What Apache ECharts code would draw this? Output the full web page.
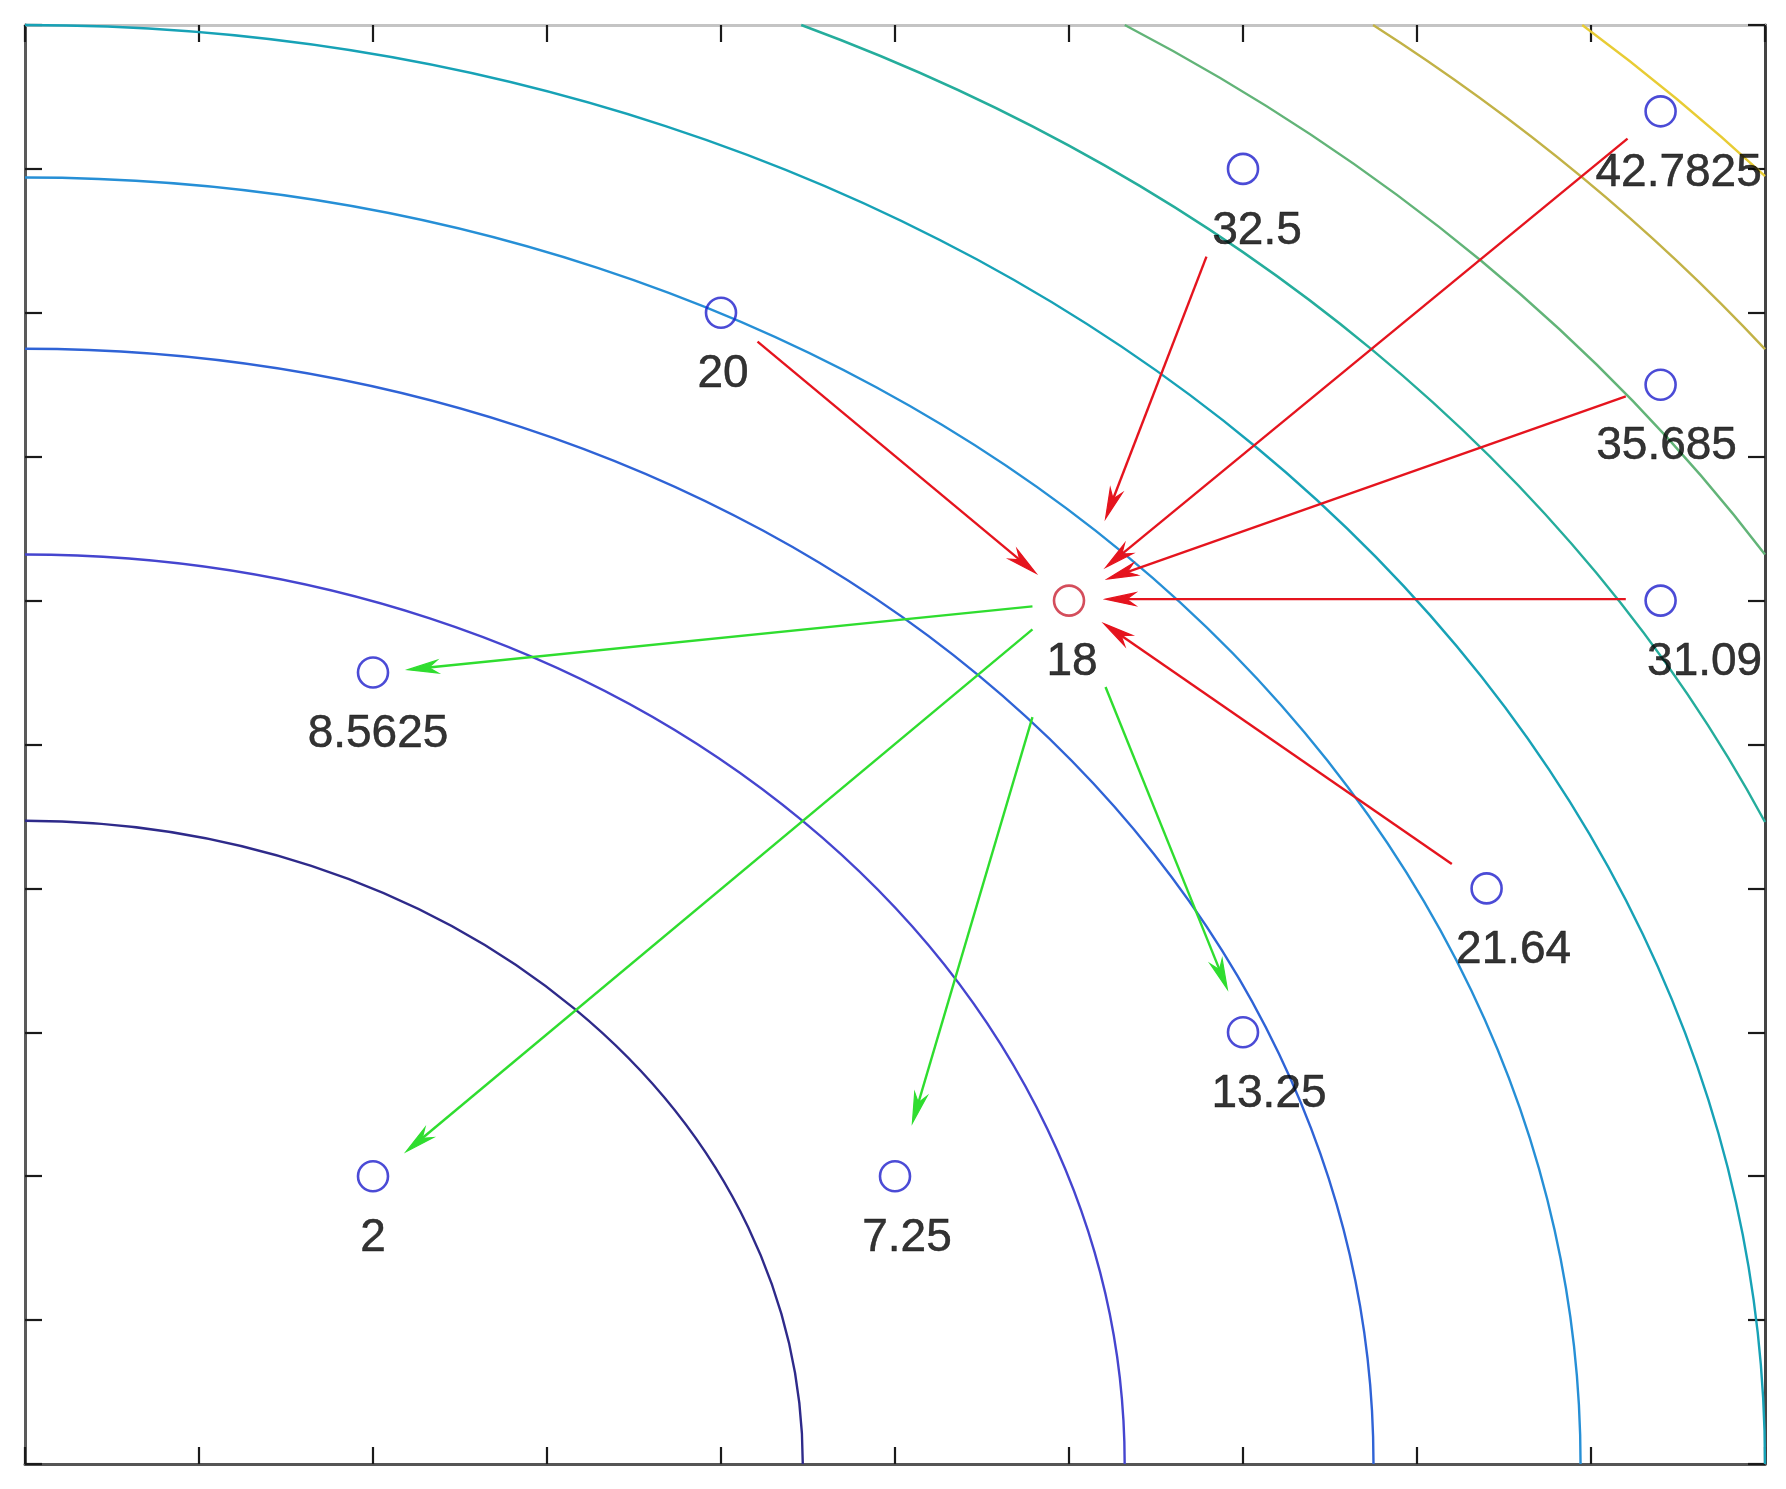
<!DOCTYPE html>
<html>
<head>
<meta charset="utf-8">
<script src="https://cdn.jsdelivr.net/npm/echarts@6/dist/echarts.min.js"></script>
<style>
html,body{margin:0;padding:0;background:#ffffff;}
#main{width:1786px;height:1489px;}
</style>
</head>
<body>
<div id="main"></div>
<script>
// ---- data ----
const contourLevels = [5, 10, 15, 20, 25, 30, 35, 40, 45];
const contourRadius = [4.47, 6.32, 7.75, 8.94, 10.0, 10.95, 11.83, 12.65, 13.42];

const pointLabels = ['2', '7.25', '13.25', '8.5625', '20', '32.5', '42.7825', '35.685', '31.09', '21.64'];
const pointX = [2, 5, 7, 2, 4, 7, 9.4, 9.4, 9.4, 8.4];
const pointY = [2, 2, 3, 5.5, 8, 9, 9.4, 7.5, 6, 4];

const centerLabel = ['18'];
const centerX = [6];
const centerY = [6];

// arrows into the centre point (start, end)
const redFromX = [4.21, 6.79, 9.21, 9.20, 9.20, 8.20];
const redFromY = [7.80, 8.39, 9.21, 7.42, 6.01, 4.17];
const redToX   = [5.81, 6.21, 6.21, 6.22, 6.21, 6.20];
const redToY   = [6.19, 6.57, 6.23, 6.15, 6.01, 5.84];
// arrows out of the centre point
const greenFromX = [5.79, 5.79, 5.79, 6.21];
const greenFromY = [5.96, 5.80, 5.19, 5.40];
const greenToX   = [2.20, 2.19, 5.10, 6.91];
const greenToY   = [5.52, 2.17, 2.37, 3.30];

const axisMin = 0, axisMax = 10, axisStep = 1;

// ---- styles / layout ----
const contourColors = ['#2e2a8a', '#4545cf', '#2f63d6', '#268fd6', '#17a2b6', '#25ad9c', '#62b478', '#c2b246', '#e8cc34'];
const labelDx = [0, 12, 26, 5, 2, 14, 18, 6, 44, 27];
const centerLabelDx = [3];
const labelDy = 62;
const FONT = "'Liberation Sans', Arial, Helvetica, sans-serif";

const chart = echarts.init(document.getElementById('main'), null, {renderer: 'canvas'});

function contourItem(params, api) {
  const r = api.value(2);
  const c = api.coord([0, 0]);
  let a, b;
  if (r <= axisMax) { a = [r, 0]; b = [0, r]; }
  else { const t = Math.sqrt(r * r - axisMax * axisMax); a = [axisMax, t]; b = [t, axisMax]; }
  const pa = api.coord(a), pb = api.coord(b);
  const rx = api.coord([r, 0])[0] - c[0];
  const ry = c[1] - api.coord([0, r])[1];
  return {
    type: 'path',
    shape: {pathData: 'M' + pa[0] + ' ' + pa[1] + ' A' + rx + ' ' + ry + ' 0 0 0 ' + pb[0] + ' ' + pb[1]},
    style: {stroke: contourColors[params.dataIndex], lineWidth: 2.4, fill: 'none'}
  };
}

function arrowItem(color) {
  return function (params, api) {
    const s = api.coord([api.value(0), api.value(1)]);
    const e = api.coord([api.value(2), api.value(3)]);
    const dx = e[0] - s[0], dy = e[1] - s[1];
    const len = Math.sqrt(dx * dx + dy * dy);
    const ux = dx / len, uy = dy / len;
    const L = 30, W = 6.5, N = 21;
    const bx = e[0] - ux * L, by = e[1] - uy * L;
    const p1 = [bx - uy * W, by + ux * W];
    const p2 = [bx + uy * W, by - ux * W];
    const nt = [e[0] - ux * N, e[1] - uy * N];
    return {
      type: 'group',
      children: [
        {type: 'line', shape: {x1: s[0], y1: s[1], x2: nt[0], y2: nt[1]}, style: {stroke: color, lineWidth: 2.4}},
        {type: 'polygon', shape: {points: [e, p1, nt, p2]}, style: {fill: color, stroke: color, lineWidth: 1.2}}
      ]
    };
  };
}

const contourData = contourLevels.map((lv, i) => [0, 0, contourRadius[i], lv]);
const redData = redFromX.map((v, i) => [v, redFromY[i], redToX[i], redToY[i]]);
const greenData = greenFromX.map((v, i) => [v, greenFromY[i], greenToX[i], greenToY[i]]);

const pointData = pointX.map((x, i) => ({
  value: [x, pointY[i]],
  label: {offset: [labelDx[i], labelDy]}
}));
const centerData = centerX.map((x, i) => ({
  value: [x, centerY[i]],
  label: {offset: [centerLabelDx[i], labelDy]}
}));

const labelStyle = {
  show: true, position: 'inside', align: 'center', verticalAlign: 'middle',
  fontSize: 46, fontFamily: FONT, color: '#000000',
  textBorderColor: '#000000', textBorderWidth: 0.5
};

function mkAxis(pos, lineColor) {
  return {
    type: 'value', position: pos, min: axisMin, max: axisMax, interval: axisStep,
    axisLine: {show: true, onZero: false, lineStyle: {color: lineColor, width: 3}},
    axisTick: {show: true, inside: true, length: 17, lineStyle: {color: '#1a1a1a', width: 2.2}},
    axisLabel: {show: false},
    splitLine: {show: false}
  };
}

chart.setOption({
  backgroundColor: '#ffffff',
  animation: false,
  grid: {left: 25, right: 21, top: 25, bottom: 25, containLabel: false},
  xAxis: [mkAxis('bottom', '#555555'), mkAxis('top', '#c4c4c4')],
  yAxis: [mkAxis('left', '#5a5a5a'), mkAxis('right', '#444444')],
  series: [
    {type: 'custom', renderItem: contourItem, data: contourData, encode: {x: 0, y: 1}, z: 1, silent: true},
    {type: 'custom', renderItem: arrowItem('#e5141e'), data: redData, encode: {x: [0, 2], y: [1, 3]}, z: 3, silent: true},
    {type: 'custom', renderItem: arrowItem('#2fdd2f'), data: greenData, encode: {x: [0, 2], y: [1, 3]}, z: 3, silent: true},
    {
      type: 'scatter', data: pointData, symbol: 'circle', symbolSize: 30, z: 5,
      itemStyle: {color: 'rgba(0,0,0,0)', borderColor: '#1e1ecc', borderWidth: 2.6},
      label: Object.assign({formatter: p => pointLabels[p.dataIndex]}, labelStyle)
    },
    {
      type: 'scatter', data: centerData, symbol: 'circle', symbolSize: 30, z: 5,
      itemStyle: {color: 'rgba(0,0,0,0)', borderColor: '#c92233', borderWidth: 2.6},
      label: Object.assign({formatter: p => centerLabel[p.dataIndex]}, labelStyle)
    }
  ]
});
</script>
</body>
</html>
